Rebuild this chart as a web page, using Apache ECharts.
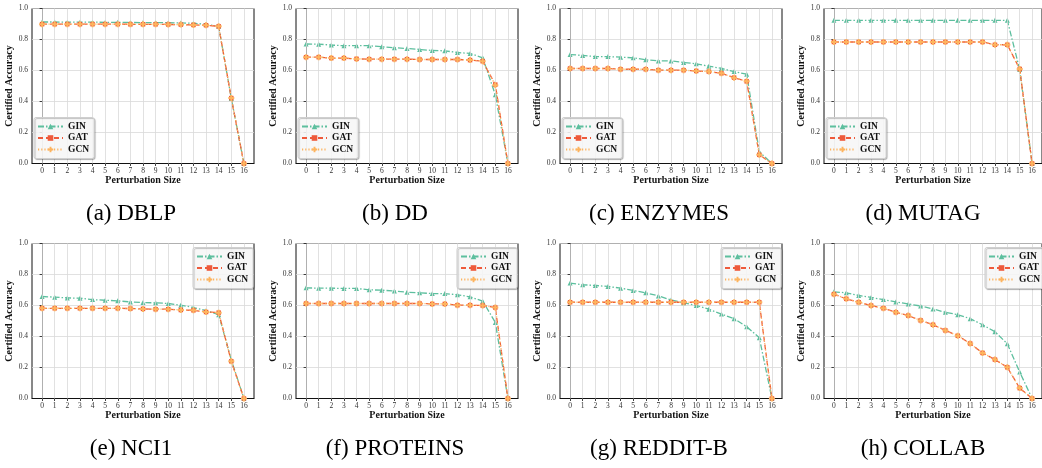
<!DOCTYPE html>
<html>
<head>
<meta charset="utf-8">
<script src="https://cdn.jsdelivr.net/npm/echarts@6/dist/echarts.min.js"></script>
<style>html,body{margin:0;padding:0;background:#fff;}#c{width:1042px;height:468px;}</style>
</head>
<body>
<div id="c"></div>
<script>
// ---- data ----
const perturbation = [0,1,2,3,4,5,6,7,8,9,10,11,12,13,14,15,16];
const yTicks = [0.0,0.2,0.4,0.6,0.8,1.0];
const captions = ['(a) DBLP','(b) DD','(c) ENZYMES','(d) MUTAG','(e) NCI1','(f) PROTEINS','(g) REDDIT-B','(h) COLLAB'];
const modelNames = ['GIN','GAT','GCN'];

const dblpGIN = [0.913,0.913,0.912,0.912,0.912,0.911,0.911,0.910,0.909,0.909,0.908,0.907,0.905,0.898,0.885,0.420,0.0];
const dblpGAT = [0.899,0.899,0.899,0.899,0.899,0.899,0.899,0.898,0.898,0.898,0.897,0.896,0.894,0.892,0.885,0.422,0.0];
const dblpGCN = [0.899,0.899,0.899,0.899,0.899,0.899,0.899,0.898,0.898,0.898,0.897,0.896,0.894,0.892,0.885,0.422,0.0];

const ddGIN = [0.771,0.770,0.764,0.760,0.760,0.760,0.753,0.747,0.742,0.736,0.729,0.727,0.716,0.710,0.682,0.444,0.0];
const ddGAT = [0.686,0.686,0.680,0.680,0.675,0.673,0.673,0.673,0.673,0.671,0.671,0.671,0.671,0.667,0.660,0.509,0.0];
const ddGCN = [0.686,0.686,0.680,0.680,0.675,0.673,0.673,0.673,0.673,0.671,0.671,0.671,0.671,0.667,0.660,0.505,0.0];

const enzGIN = [0.703,0.697,0.690,0.690,0.686,0.682,0.669,0.662,0.662,0.652,0.643,0.628,0.613,0.593,0.576,0.076,0.0];
const enzGAT = [0.613,0.613,0.613,0.613,0.608,0.608,0.608,0.602,0.602,0.602,0.597,0.593,0.582,0.554,0.530,0.056,0.0];
const enzGCN = [0.613,0.613,0.613,0.613,0.608,0.608,0.608,0.602,0.602,0.602,0.597,0.593,0.582,0.554,0.530,0.056,0.0];

const mutagGIN = [0.924,0.924,0.924,0.924,0.924,0.924,0.924,0.924,0.924,0.924,0.924,0.924,0.924,0.924,0.924,0.606,0.0];
const mutagGAT = [0.784,0.784,0.784,0.784,0.784,0.784,0.784,0.784,0.784,0.784,0.784,0.784,0.784,0.766,0.766,0.610,0.0];
const mutagGCN = [0.784,0.784,0.784,0.784,0.784,0.784,0.784,0.784,0.784,0.784,0.784,0.784,0.784,0.766,0.766,0.610,0.0];

const nci1GIN = [0.658,0.654,0.649,0.647,0.638,0.634,0.630,0.623,0.619,0.617,0.613,0.602,0.587,0.567,0.541,0.249,0.0];
const nci1GAT = [0.582,0.582,0.582,0.582,0.582,0.582,0.582,0.580,0.578,0.576,0.576,0.571,0.569,0.558,0.554,0.240,0.0];
const nci1GCN = [0.582,0.582,0.582,0.582,0.582,0.582,0.582,0.580,0.578,0.576,0.576,0.571,0.569,0.558,0.554,0.240,0.0];

const protGIN = [0.714,0.712,0.712,0.710,0.710,0.701,0.699,0.693,0.686,0.682,0.677,0.677,0.669,0.656,0.628,0.491,0.0];
const protGAT = [0.613,0.613,0.613,0.613,0.613,0.613,0.613,0.613,0.613,0.613,0.610,0.610,0.602,0.602,0.600,0.587,0.0];
const protGCN = [0.613,0.613,0.613,0.613,0.613,0.613,0.613,0.613,0.613,0.613,0.610,0.610,0.602,0.602,0.600,0.587,0.0];

const redditGIN = [0.745,0.734,0.729,0.723,0.712,0.697,0.682,0.662,0.636,0.617,0.600,0.576,0.545,0.515,0.463,0.392,0.0];
const redditGAT = [0.621,0.621,0.621,0.621,0.621,0.621,0.621,0.621,0.621,0.621,0.621,0.621,0.621,0.621,0.621,0.621,0.0];
const redditGCN = [0.621,0.621,0.621,0.621,0.621,0.621,0.621,0.621,0.621,0.621,0.621,0.621,0.621,0.621,0.621,0.621,0.0];

const collabGIN = [0.688,0.682,0.665,0.652,0.638,0.623,0.610,0.597,0.578,0.556,0.541,0.515,0.476,0.431,0.353,0.171,0.0];
const collabGAT = [0.673,0.643,0.621,0.600,0.582,0.556,0.535,0.504,0.476,0.439,0.405,0.355,0.294,0.251,0.201,0.067,0.0];
const collabGCN = [0.673,0.643,0.621,0.600,0.582,0.556,0.535,0.504,0.476,0.439,0.405,0.355,0.294,0.251,0.201,0.067,0.0];

const panelData = [
  [dblpGIN, dblpGAT, dblpGCN],
  [ddGIN, ddGAT, ddGCN],
  [enzGIN, enzGAT, enzGCN],
  [mutagGIN, mutagGAT, mutagGCN],
  [nci1GIN, nci1GAT, nci1GCN],
  [protGIN, protGAT, protGCN],
  [redditGIN, redditGAT, redditGCN],
  [collabGIN, collabGAT, collabGCN]
];

// ---- styles ----
const SERIF = '"Liberation Serif","Times New Roman",serif';
const colors = ['#5dbf9e', '#ee5a3b', '#fdb45f'];
const lineTypes = [[6,2,1.5,2], [5,3], [1.2,2]];
const symbols = ['triangle', 'rect', 'path://M2,0H4V2H6V4H4V6H2V4H0V2H2Z'];
const symbolSizes = [5, 4.5, 6];
const GRID_COLOR = '#d9d9d9';

const grids = [], xAxes = [], yAxes = [], series = [], legends = [], graphics = [];
const GW = 222, GH = 155;
for (let p = 0; p < 8; p++) {
  const c = p % 4, r = Math.floor(p / 4);
  const left = 32 + 264 * c, top = 8.5 + 235 * r;
  grids.push({left: left, top: top, width: GW, height: GH, show: true, borderColor: '#111', borderWidth: 1, backgroundColor: 'transparent', containLabel: false});
  xAxes.push({
    type: 'value', gridIndex: p, min: -0.8, max: 16.8,
    name: 'Perturbation Size', nameLocation: 'middle', nameGap: 10,
    nameTextStyle: {fontFamily: SERIF, fontWeight: 'bold', fontSize: 10, color: '#111'},
    axisLine: {show: true, onZero: false, lineStyle: {color: '#111', width: 1}},
    axisTick: {show: true, length: 2.5, inside: false, customValues: perturbation, lineStyle: {color: '#111', width: 0.8}},
    axisLabel: {customValues: perturbation, margin: 3.5, fontFamily: SERIF, fontSize: 7.5, color: '#333', formatter: v => String(v)},
    splitLine: {show: false}
  });
  yAxes.push({
    type: 'value', gridIndex: p, min: 0, max: 1, interval: 0.2,
    name: 'Certified Accuracy', nameLocation: 'middle', nameGap: 10.5, nameRotate: 90,
    nameTextStyle: {fontFamily: SERIF, fontWeight: 'bold', fontSize: 10, color: '#111'},
    axisLine: {show: true, lineStyle: {color: '#111', width: 1}},
    axisTick: {show: true, length: 2.5, inside: false, lineStyle: {color: '#111', width: 0.8}},
    axisLabel: {margin: 4, fontFamily: SERIF, fontSize: 7.5, color: '#333', formatter: v => v.toFixed(1)},
    splitLine: {show: true, lineStyle: {color: GRID_COLOR, width: 0.8}}
  });
  // vertical grid lines at each perturbation tick, placed through the x scale
  series.push({
    name: 'grid', type: 'line', xAxisIndex: p, yAxisIndex: p, data: [], z: 1, silent: true,
    markLine: {
      silent: true, symbol: ['none', 'none'], label: {show: false}, animation: false,
      lineStyle: {color: GRID_COLOR, width: 0.8, type: 'solid'},
      emphasis: {disabled: true},
      data: perturbation.map(x => ({xAxis: x}))
    }
  });
  for (let s = 0; s < 3; s++) {
    series.push({
      name: modelNames[s], type: 'line', xAxisIndex: p, yAxisIndex: p,
      data: perturbation.map((x, i) => [x, panelData[p][s][i]]),
      symbol: symbols[s], symbolSize: symbolSizes[s], showSymbol: true,
      itemStyle: {color: colors[s], borderWidth: 0},
      lineStyle: {color: colors[s], width: 1.3, type: lineTypes[s]},
      z: 3 + s, clip: false, animation: false
    });
  }
  const leg = {
    orient: 'vertical', data: modelNames, itemWidth: 25, itemHeight: 7, itemGap: 1.5,
    padding: [4, 5, 4, 3], backgroundColor: 'rgba(255,255,255,0.85)', borderColor: '#cfcfcf', borderWidth: 1, borderRadius: 2,
    shadowColor: 'rgba(0,0,0,0.25)', shadowOffsetX: 1, shadowOffsetY: 1, shadowBlur: 1,
    textStyle: {fontFamily: SERIF, fontWeight: 'bold', fontSize: 9.5, lineHeight: 10, color: '#111'},
    selectedMode: false, z: 10
  };
  if (r === 0) { leg.left = left + 2; leg.top = top + GH - 46; }
  else { leg.left = left + 161; leg.top = top + 4; }
  legends.push(leg);
  graphics.push({
    type: 'text', x: 131 + 264 * c, y: 214 + 235 * r,
    style: {text: captions[p], font: '23px ' + SERIF, fill: '#000', textAlign: 'center', textVerticalAlign: 'middle'}
  });
}

const chart = echarts.init(document.getElementById('c'), null, {renderer: 'canvas'});
chart.setOption({
  animation: false,
  backgroundColor: '#fff',
  grid: grids, xAxis: xAxes, yAxis: yAxes, series: series, legend: legends, graphic: graphics
});
</script>
</body>
</html>
